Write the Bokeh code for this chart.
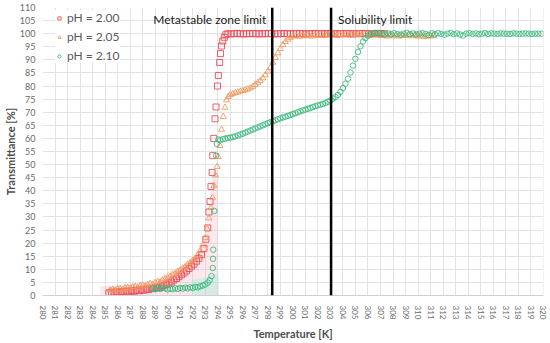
import math
from bokeh.plotting import figure
from bokeh.models import FixedTicker, Span, Legend, LegendItem
from bokeh.core.properties import value
from bokeh.embed import file_html
from bokeh.resources import INLINE

# ---------------- data ----------------
series_names = ["pH = 2.00", "pH = 2.05", "pH = 2.10"]

t_ph200 = [285.3, 285.5, 285.7, 285.9, 286.1, 286.3, 286.5, 286.7, 286.9, 287.1, 287.3, 287.5, 287.7, 287.9,
           288.1, 288.3, 288.5, 288.7, 288.9, 289.1, 289.3, 289.5, 289.7, 289.9, 290.1, 290.3, 290.5, 290.7,
           290.9, 291.1, 291.3, 291.5, 291.7, 291.9, 292.1, 292.3, 292.5, 292.7, 292.9, 293.05, 293.2, 293.3,
           293.38, 293.46, 293.55, 293.6, 293.68, 293.78, 293.86, 293.98, 294.05, 294.15, 294.22, 294.3, 294.4,
           294.52, 294.65,
           294.8, 295.05, 295.3, 295.55, 295.8, 296.05, 296.3, 296.55, 296.8, 297.05, 297.3, 297.55, 297.8,
           298.05, 298.3, 298.55, 298.8, 299.05, 299.3, 299.55, 299.8, 300.05, 300.3, 300.55, 300.8, 301.05,
           301.3, 301.55, 301.8, 302.05, 302.3, 302.55, 302.8, 303.05, 303.3, 303.55, 303.8, 304.05, 304.3,
           304.55, 304.8, 305.05, 305.3, 305.55, 305.8, 306.05, 306.3, 306.55, 306.8, 307.05, 307.3]
tr_ph200 = [1.0, 1.3, 0.9, 1.4, 1.1, 1.5, 1.3, 1.7, 1.4, 1.8, 1.6, 2.0, 1.8, 2.2,
            2.0, 2.5, 2.3, 2.8, 2.7, 3.1, 3.0, 3.6, 3.9, 4.3, 4.8, 5.2, 5.9, 6.5,
            7.2, 7.9, 8.6, 9.4, 10.3, 11.2, 12.0, 13.1, 14.2, 15.6, 18.0, 21.5, 25.8, 31.9,
            35.9, 41.6, 47.0, 53.4, 60.0, 67.5, 72.0, 80.0, 84.0, 89.0, 92.4, 95.3, 97.2,
            98.6, 99.6,
            100.0, 99.9, 100.0, 100.1, 100.0, 99.9, 100.0, 100.0, 100.1, 100.0, 99.9, 100.0, 100.0,
            100.1, 100.0, 99.9, 100.0, 100.0, 100.1, 100.0, 99.9, 100.0, 100.0, 100.1, 100.0, 99.9,
            100.0, 100.0, 100.1, 100.0, 99.9, 100.0, 100.0, 100.1, 100.0, 99.9, 100.0, 100.0, 100.1,
            100.0, 99.9, 100.0, 100.0, 100.1, 100.0, 99.9, 100.0, 100.0, 100.1, 100.0, 100.0]

t_ph205 = [285.4, 285.6, 285.8, 286.0, 286.2, 286.4, 286.6, 286.8, 287.0, 287.2, 287.4, 287.6, 287.8, 288.0,
           288.2, 288.4, 288.6, 288.8, 289.0, 289.2, 289.4, 289.6, 289.8, 290.0, 290.2, 290.4, 290.6, 290.8,
           291.0, 291.2, 291.4, 291.6, 291.8, 292.0, 292.2, 292.4, 292.6, 292.8, 293.0, 293.15, 293.3, 293.45,
           293.58, 293.7, 293.82, 293.95, 294.04, 294.17, 294.3, 294.44, 294.57, 294.7, 294.84, 295.0, 295.2,
           295.4, 295.6, 295.8, 296.0, 296.2, 296.4, 296.6, 296.8, 297.0, 297.2, 297.4, 297.6, 297.8, 298.0,
           298.2, 298.4, 298.6, 298.8, 299.0, 299.2, 299.4, 299.6, 299.8, 300.0,
           300.25, 300.5, 300.75, 301.0, 301.25, 301.5, 301.75, 302.0, 302.25, 302.5, 302.75, 303.0, 303.25,
           303.5, 303.75, 304.0, 304.25, 304.5, 304.75, 305.0, 305.25, 305.5, 305.75, 306.0, 306.25, 306.5,
           306.75, 307.0, 307.25, 307.5, 307.75, 308.0, 308.25, 308.5, 308.75, 309.0, 309.25, 309.5, 309.75,
           310.0, 310.25, 310.5, 310.75, 311.0, 311.25]
tr_ph205 = [2.0, 2.3, 1.9, 2.5, 2.6, 2.3, 2.9, 3.0, 2.7, 3.3, 3.4, 3.1, 3.7, 3.9,
            3.6, 4.2, 4.5, 4.3, 4.9, 5.3, 5.1, 5.8, 6.3, 6.6, 7.3, 7.9, 8.3, 9.1,
            9.6, 10.4, 11.0, 11.9, 12.5, 13.4, 14.3, 15.5, 17.0, 19.2, 22.0, 25.5, 29.5, 33.5,
            37.4, 42.0, 46.0, 49.2, 53.0, 57.2, 63.4, 68.3, 71.8, 74.6, 75.9, 76.6, 77.0,
            77.4, 77.6, 78.0, 78.2, 78.5, 78.8, 79.2, 79.8, 80.5, 81.3, 82.0, 83.0, 84.2, 85.6,
            87.0, 89.0, 90.8, 92.6, 94.3, 95.8, 96.9, 97.8, 98.5, 99.0,
            99.2, 98.9, 99.4, 99.1, 99.6, 99.0, 99.5, 99.3, 99.8, 99.2, 99.6, 99.4, 99.9,
            99.3, 99.7, 99.5, 99.9, 99.4, 99.8, 99.6, 100.0, 99.5, 99.8, 99.6, 99.9, 99.4,
            99.7, 99.2, 99.6, 99.0, 99.4, 99.1, 99.5, 99.0, 99.4, 99.2, 99.6, 99.1, 99.4,
            99.0, 99.3, 98.8, 99.2, 99.0, 99.3]

t_ph210 = [288.8, 289.0, 289.2, 289.4, 289.6, 289.8, 290.0, 290.2, 290.4, 290.6, 290.8, 291.0, 291.2, 291.4,
           291.6, 291.8, 292.0, 292.2, 292.4, 292.6, 292.8, 293.0, 293.2, 293.35, 293.5, 293.6, 293.62, 293.64,
           293.72, 293.86, 293.92, 294.04, 294.2, 294.4, 294.6, 294.8, 295.0, 295.2, 295.4, 295.6, 295.8,
           296.0, 296.2, 296.4, 296.6, 296.8, 297.0, 297.2, 297.4, 297.6, 297.8, 298.0, 298.2, 298.4, 298.6,
           298.8, 299.0, 299.2, 299.4, 299.6, 299.8, 300.0, 300.2, 300.4, 300.6, 300.8, 301.0, 301.2, 301.4,
           301.6, 301.8, 302.0, 302.2, 302.4, 302.6, 302.8, 303.0, 303.2, 303.4, 303.6, 303.8, 304.0, 304.2,
           304.4, 304.6, 304.8, 305.0, 305.2, 305.4, 305.6, 305.8, 306.0, 306.2, 306.4, 306.6,
           306.85, 307.1, 307.35, 307.6, 307.85, 308.1, 308.35, 308.6, 308.85, 309.1, 309.35, 309.6, 309.85,
           310.1, 310.35, 310.6, 310.85, 311.1, 311.35, 311.6, 311.85, 312.1, 312.35, 312.6, 312.85, 313.1,
           313.35, 313.6, 313.85, 314.1, 314.35, 314.6, 314.85, 315.1, 315.35, 315.6, 315.85, 316.1, 316.35,
           316.6, 316.85, 317.1, 317.35, 317.6, 317.85, 318.1, 318.35, 318.6, 318.85, 319.1, 319.35, 319.6,
           319.85]
tr_ph210 = [2.6, 2.4, 2.8, 2.5, 2.9, 2.7, 2.3, 2.6, 2.4, 2.8, 2.5, 2.9, 2.6, 3.0,
            2.7, 3.1, 2.9, 3.3, 3.1, 3.5, 3.8, 4.2, 4.9, 5.8, 7.4, 10.5, 14.0, 17.5,
            32.3, 53.4, 57.9, 59.6, 59.3, 59.7, 59.9, 60.2, 60.3, 60.5, 60.8, 61.1, 61.5,
            61.8, 62.2, 62.6, 63.0, 63.4, 63.8, 64.2, 64.6, 65.0, 65.4, 65.8, 66.2, 66.5, 66.9,
            67.3, 67.7, 68.0, 68.3, 68.6, 68.9, 69.3, 69.6, 70.0, 70.4, 70.7, 71.0, 71.3, 71.6,
            72.0, 72.3, 72.6, 72.9, 73.2, 73.5, 74.0, 74.5, 75.2, 75.8, 76.6, 77.8, 79.2, 80.9,
            82.8, 85.2, 87.8, 90.4, 93.0, 95.2, 97.0, 98.3, 99.2, 99.8, 100.1, 100.3,
            100.2, 100.0, 99.7, 100.1, 99.8, 100.2, 99.9, 99.6, 100.0, 100.3, 99.8, 100.1, 99.7,
            100.0, 100.2, 99.9, 99.5, 100.1, 99.8, 100.2, 99.9, 99.6, 100.0, 100.3, 99.8, 100.1,
            99.7, 99.3, 100.0, 100.2, 99.9, 100.1, 99.8, 100.0, 100.2, 99.9, 100.1, 100.0, 99.9,
            100.1, 100.0, 100.0, 99.9, 100.1, 100.0, 99.9, 100.0, 100.1, 100.0, 99.9, 100.0, 100.0,
            100.0]

# faint error envelopes of the nucleation region
err_t_ph200 = [284.6, 286.0, 287.5, 289.0, 289.6, 290.5, 291.5, 292.2, 292.8, 293.2, 293.6, 294.0]
err_hi_ph200 = [3.5, 4.0, 4.5, 5.0, 8.0, 10.0, 12.0, 15.0, 18.0, 30.0, 46.0, 47.0]
err_t_ph210 = [292.0, 292.6, 293.2, 293.7, 294.1]
err_hi_ph210 = [6.0, 6.5, 7.0, 8.0, 8.0]

limit_temps = [298.35, 303.05]
limit_labels = ["Metastable zone limit", "Solubility limit"]

x_ticks = list(range(280, 321))
y_ticks = list(range(0, 111, 5))

# ---------------- styling ----------------
FONT = "Lato"
GRID = "#e3e3e3"
TICK_COL = "#6a6a6a"
TITLE_COL = "#4d4d4d"
colors = ["#ee4450", "#f0955a", "#35b878"]

p = figure(width=550, height=343, x_range=(280, 320.02), y_range=(0, 110),
           output_backend="svg", toolbar_location=None,
           min_border_left=40, min_border_right=7, min_border_top=7, min_border_bottom=47)
p.outline_line_color = None
p.background_fill_color = "white"

p.xgrid.ticker = FixedTicker(ticks=x_ticks)
p.ygrid.ticker = FixedTicker(ticks=y_ticks)
p.grid.grid_line_color = GRID
p.grid.grid_line_width = 1

p.xaxis.ticker = FixedTicker(ticks=x_ticks)
p.yaxis.ticker = FixedTicker(ticks=y_ticks)
p.xaxis.major_label_orientation = -math.pi / 2
for ax in (p.xaxis[0], p.yaxis[0]):
    ax.major_tick_line_color = None
    ax.minor_tick_line_color = None
    ax.major_label_text_font = FONT
    ax.major_label_text_color = TICK_COL
    ax.axis_label_text_font = FONT
    ax.axis_label_text_font_size = "11px"
    ax.axis_label_text_font_style = "bold"
    ax.axis_label_text_color = TITLE_COL
p.xaxis.major_label_text_font_size = "8px"
p.yaxis.major_label_text_font_size = "9px"
p.xaxis.axis_line_color = "#d0d0d0"
p.yaxis.axis_line_color = None
p.xaxis.major_label_standoff = 4
p.yaxis.major_label_standoff = 1
p.xaxis.axis_label = "Temperature [K]"
p.yaxis.axis_label = "Transmittance [%]"
p.xaxis.axis_label_standoff = 5
p.yaxis.axis_label_standoff = 0

# faint error envelopes
p.varea(x=err_t_ph200, y1=[0] * len(err_t_ph200), y2=err_hi_ph200,
        fill_color="#f7b6c4", fill_alpha=0.3)
p.varea(x=err_t_ph210, y1=[0] * len(err_t_ph210), y2=err_hi_ph210,
        fill_color="#a8eedd", fill_alpha=0.45)

# limit lines
for t in limit_temps:
    p.add_layout(Span(location=t, dimension="height", line_color="black", line_width=2.5))

p.text(x=[limit_temps[0]], y=[105.3], text=[limit_labels[0]], text_align="right",
       text_baseline="middle", x_offset=-6, text_font=value(FONT), text_font_size="12px",
       text_color="#1a1a1a")
p.text(x=[limit_temps[1]], y=[105.3], text=[limit_labels[1]], text_align="left",
       text_baseline="middle", x_offset=7, text_font=value(FONT), text_font_size="12px",
       text_color="#1a1a1a")

r0 = p.scatter(t_ph200, tr_ph200, marker="square", size=6, fill_color=None,
               line_color=colors[0], line_width=1, line_alpha=0.85)
r1 = p.scatter(t_ph205, tr_ph205, marker="triangle", size=6, fill_color=None,
               line_color=colors[1], line_width=1, line_alpha=0.85)
r2 = p.scatter(t_ph210, tr_ph210, marker="circle", size=5.5, fill_color=None,
               line_color=colors[2], line_width=1, line_alpha=0.85)

legend = Legend(items=[LegendItem(label=series_names[0], renderers=[r0]),
                       LegendItem(label=series_names[1], renderers=[r1]),
                       LegendItem(label=series_names[2], renderers=[r2])],
                location=(13, 232))
legend.border_line_color = None
legend.background_fill_color = "white"
legend.background_fill_alpha = 1
legend.label_text_font = FONT
legend.label_text_font_size = "12px"
legend.label_text_color = "#595959"
legend.glyph_width = 8
legend.glyph_height = 14
legend.label_height = 14
legend.spacing = 4
legend.padding = 3
legend.margin = 0
legend.label_standoff = 4
p.add_layout(legend)

open("out.html", "w").write(file_html(p, INLINE))
